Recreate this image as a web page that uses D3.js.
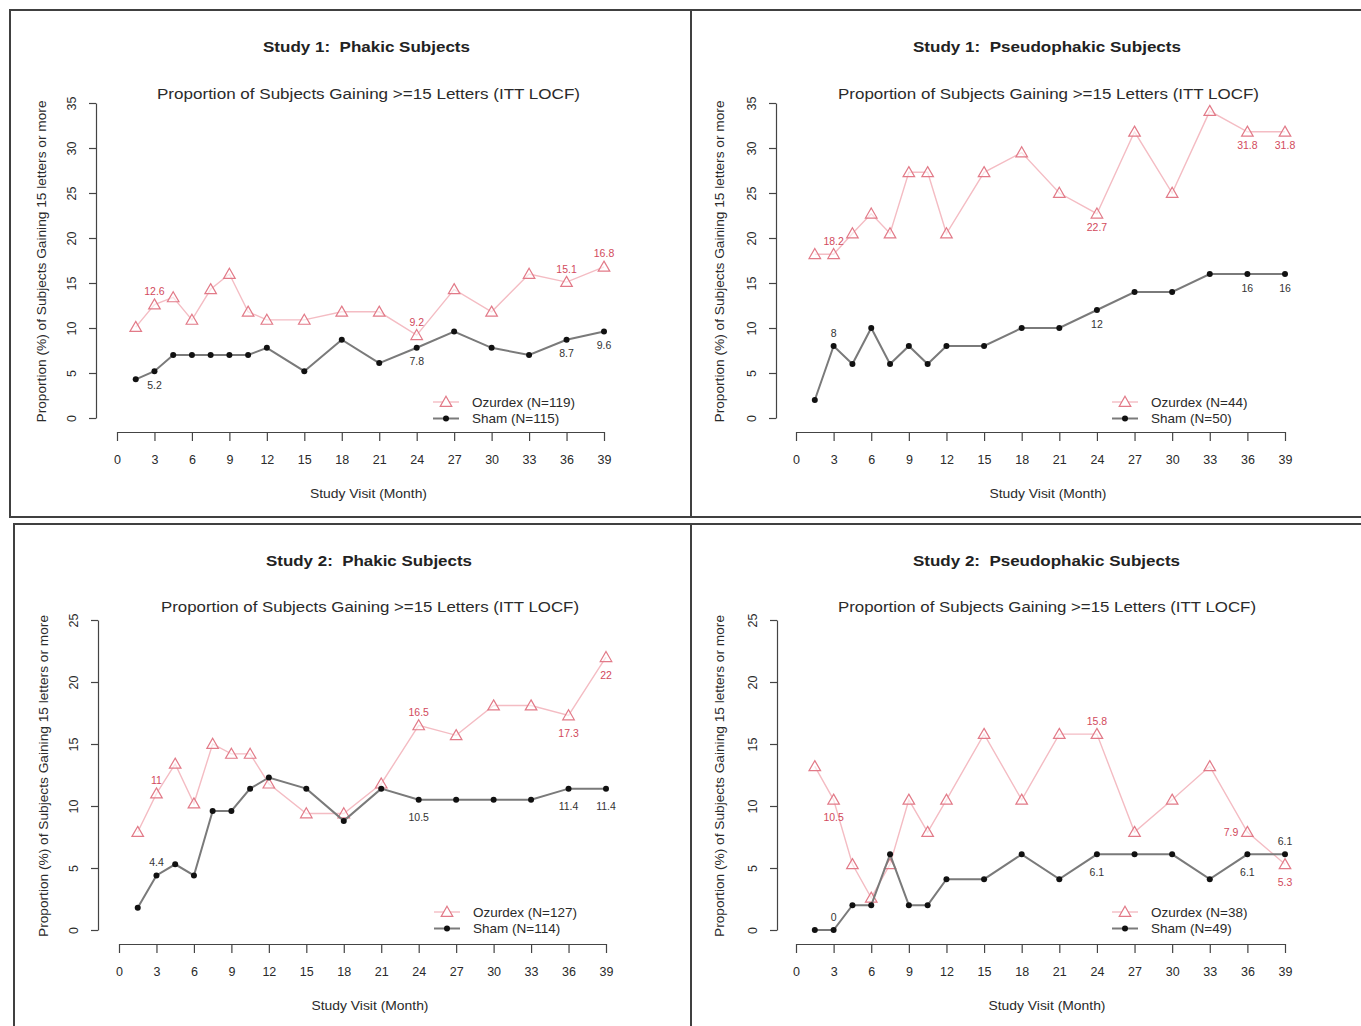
<!DOCTYPE html>
<html>
<head>
<meta charset="utf-8">
<script src="https://cdn.jsdelivr.net/npm/d3@7"></script>
<style>
  html, body { margin: 0; padding: 0; background: #fff; }
  svg { display: block; }
  text { font-family: "Liberation Sans", Arial, sans-serif; }
  .pre { white-space: pre; }
</style>
</head>
<body>
<svg id="chart" width="1361" height="1026"></svg>
<script>
// ---------------- DATA ----------------
const months = [1.5, 3, 4.5, 6, 7.5, 9, 10.5, 12, 15, 18, 21, 24, 27, 30, 33, 36, 39];
const xTickValues = [0, 3, 6, 9, 12, 15, 18, 21, 24, 27, 30, 33, 36, 39];
const yTicksStudy1 = [0, 5, 10, 15, 20, 25, 30, 35];
const yTicksStudy2 = [0, 5, 10, 15, 20, 25];

const panelTitles = ["Study 1:  Phakic Subjects", "Study 1:  Pseudophakic Subjects",
                     "Study 2:  Phakic Subjects", "Study 2:  Pseudophakic Subjects"];
const subtitle = "Proportion of Subjects Gaining >=15 Letters (ITT LOCF)";
const yTitle = "Proportion (%) of Subjects Gaining 15 letters or more";
const xTitle = "Study Visit (Month)";

const s1PhakicOzurdex = [10.1, 12.6, 13.4, 10.9, 14.3, 16.0, 11.8, 10.9, 10.9, 11.8, 11.8, 9.2, 14.3, 11.8, 16.0, 15.1, 16.8];
const s1PhakicSham    = [4.3, 5.2, 7.0, 7.0, 7.0, 7.0, 7.0, 7.8, 5.2, 8.7, 6.1, 7.8, 9.6, 7.8, 7.0, 8.7, 9.6];
const s1PseudoOzurdex = [18.2, 18.2, 20.5, 22.7, 20.5, 27.3, 27.3, 20.5, 27.3, 29.5, 25.0, 22.7, 31.8, 25.0, 34.1, 31.8, 31.8];
const s1PseudoSham    = [2, 8, 6, 10, 6, 8, 6, 8, 8, 10, 10, 12, 14, 14, 16, 16, 16];
const s2PhakicOzurdex = [7.9, 11.0, 13.4, 10.2, 15.0, 14.2, 14.2, 11.8, 9.4, 9.4, 11.8, 16.5, 15.7, 18.1, 18.1, 17.3, 22.0];
const s2PhakicSham    = [1.8, 4.4, 5.3, 4.4, 9.6, 9.6, 11.4, 12.3, 11.4, 8.8, 11.4, 10.5, 10.5, 10.5, 10.5, 11.4, 11.4];
const s2PseudoOzurdex = [13.2, 10.5, 5.3, 2.6, 5.3, 10.5, 7.9, 10.5, 15.8, 10.5, 15.8, 15.8, 7.9, 10.5, 13.2, 7.9, 5.3];
const s2PseudoSham    = [0, 0, 2.0, 2.0, 6.1, 2.0, 2.0, 4.1, 4.1, 6.1, 4.1, 6.1, 6.1, 6.1, 4.1, 6.1, 6.1];

const labelMonths = [3, 24, 36, 39];
const s1PhakicOzurdexLabels = ["12.6", "9.2", "15.1", "16.8"];
const s1PhakicShamLabels    = ["5.2", "7.8", "8.7", "9.6"];
const s1PseudoOzurdexLabels = ["18.2", "22.7", "31.8", "31.8"];
const s1PseudoShamLabels    = ["8", "12", "16", "16"];
const s2PhakicOzurdexLabels = ["11", "16.5", "17.3", "22"];
const s2PhakicShamLabels    = ["4.4", "10.5", "11.4", "11.4"];
const s2PseudoOzurdexLabels = ["10.5", "15.8", "7.9", "5.3"];
const s2PseudoShamLabels    = ["0", "6.1", "6.1", "6.1"];

const ozurdexLegend = ["Ozurdex (N=119)", "Ozurdex (N=44)", "Ozurdex (N=127)", "Ozurdex (N=38)"];
const shamLegend    = ["Sham (N=115)", "Sham (N=50)", "Sham (N=114)", "Sham (N=49)"];

// ---------------- STYLE ----------------
const OZ_LINE = "#f4bcc3", OZ_MARK = "#e27a88", OZ_TEXT = "#d24a5c";
const SH_LINE = "#7a7a7a", SH_MARK = "#111", SH_TEXT = "#333";
const TXT = "#2a2a2a";

const svg = d3.select("#chart");

// panel frames
const frames = [
  {x: 10, y: 10, w: 681, h: 507},
  {x: 691, y: 10, w: 690, h: 507},
  {x: 14, y: 524, w: 677, h: 520},
  {x: 691, y: 524, w: 690, h: 520}
];
frames.forEach(f => {
  svg.append("rect").attr("x", f.x).attr("y", f.y).attr("width", f.w).attr("height", f.h)
    .attr("fill", "none").attr("stroke", "#404040").attr("stroke-width", 2);
});

const panels = [
  {title: panelTitles[0], oz: s1PhakicOzurdex, sh: s1PhakicSham,
   ozLab: s1PhakicOzurdexLabels, shLab: s1PhakicShamLabels,
   ozPos: ["a","a","a","a"], shPos: ["b","b","b","b"],
   legend: [ozurdexLegend[0], shamLegend[0]], yTicks: yTicksStudy1, yMax: 35,
   xr: [117, 604], yr: [418, 103], yAxisX: 96, xAxisY: 432,
   titleX: 366.5, titleW: 207, subX: 368.5, subW: 423, xtX: 368.5,
   titleY: 47, subY: 94, yTitleX: 42, legX: 433, legY: 402, below: 14},
  {title: panelTitles[1], oz: s1PseudoOzurdex, sh: s1PseudoSham,
   ozLab: s1PseudoOzurdexLabels, shLab: s1PseudoShamLabels,
   ozPos: ["a","b","b","b"], shPos: ["a","b","b","b"],
   legend: [ozurdexLegend[1], shamLegend[1]], yTicks: yTicksStudy1, yMax: 35,
   xr: [796, 1285], yr: [418, 103], yAxisX: 776, xAxisY: 432,
   titleX: 1047, titleW: 268, subX: 1048.5, subW: 421, xtX: 1048,
   titleY: 47, subY: 94, yTitleX: 720, legX: 1112, legY: 402, below: 14},
  {title: panelTitles[2], oz: s2PhakicOzurdex, sh: s2PhakicSham,
   ozLab: s2PhakicOzurdexLabels, shLab: s2PhakicShamLabels,
   ozPos: ["a","a","b","b"], shPos: ["a","b","b","b"],
   legend: [ozurdexLegend[2], shamLegend[2]], yTicks: yTicksStudy2, yMax: 25,
   xr: [119, 606], yr: [930, 620], yAxisX: 98, xAxisY: 944,
   titleX: 369, titleW: 206, subX: 370, subW: 418, xtX: 370,
   titleY: 561, subY: 607, yTitleX: 44, legX: 434, legY: 912, below: 18},
  {title: panelTitles[3], oz: s2PseudoOzurdex, sh: s2PseudoSham,
   ozLab: s2PseudoOzurdexLabels, shLab: s2PseudoShamLabels,
   ozPos: ["b","a","l","b"], shPos: ["a","b","b","a"],
   legend: [ozurdexLegend[3], shamLegend[3]], yTicks: yTicksStudy2, yMax: 25,
   xr: [796, 1285], yr: [930, 620], yAxisX: 777, xAxisY: 944,
   titleX: 1046.5, titleW: 267, subX: 1047, subW: 418, xtX: 1047,
   titleY: 561, subY: 607, yTitleX: 720, legX: 1112, legY: 912, below: 18}
];

const triangle = d3.symbol().type(d3.symbolTriangle).size(58);

panels.forEach(p => {
  const g = svg.append("g");
  const x = d3.scaleLinear().domain([0, 39]).range(p.xr);
  const y = d3.scaleLinear().domain([0, p.yMax]).range(p.yr);

  // titles
  g.append("text").attr("class", "pre").attr("x", p.titleX).attr("y", p.titleY).attr("dy", "0.35em")
    .attr("text-anchor", "middle").attr("font-weight", "bold").attr("font-size", 15)
    .attr("textLength", p.titleW).attr("lengthAdjust", "spacingAndGlyphs")
    .attr("fill", "#222").text(p.title);
  g.append("text").attr("x", p.subX).attr("y", p.subY).attr("dy", "0.35em")
    .attr("text-anchor", "middle").attr("font-size", 15.5).attr("fill", TXT)
    .attr("textLength", p.subW).attr("lengthAdjust", "spacingAndGlyphs").text(subtitle);

  // y axis
  const yAxis = d3.axisLeft(y).tickValues(p.yTicks).tickSize(7).tickSizeOuter(0);
  const ya = g.append("g").attr("transform", `translate(${p.yAxisX},0)`).call(yAxis);
  ya.select(".domain").attr("stroke", "#444").attr("stroke-width", 1.2);
  ya.selectAll(".tick line").attr("stroke", "#444").attr("stroke-width", 1.2);
  ya.selectAll(".tick text").attr("x", 0).attr("dy", 0).attr("y", 0)
    .attr("transform", "translate(-20,0) rotate(-90)")
    .attr("text-anchor", "middle").attr("font-size", 12.5).attr("fill", TXT)
    .attr("font-family", "Liberation Sans, Arial, sans-serif");

  // y title
  const yMid = (p.yr[0] + p.yr[1]) / 2 + 1;
  g.append("text").attr("transform", `translate(${p.yTitleX},${yMid}) rotate(-90)`)
    .attr("text-anchor", "middle").attr("dy", "0.35em").attr("font-size", 12.5)
    .attr("textLength", 322).attr("lengthAdjust", "spacingAndGlyphs")
    .attr("fill", TXT).text(yTitle);

  // x axis
  const xAxis = d3.axisBottom(x).tickValues(xTickValues).tickSize(9).tickSizeOuter(0);
  const xa = g.append("g").attr("transform", `translate(0,${p.xAxisY})`).call(xAxis);
  xa.select(".domain").attr("stroke", "#444").attr("stroke-width", 1.2);
  xa.selectAll(".tick line").attr("stroke", "#444").attr("stroke-width", 1.2);
  xa.selectAll(".tick text").attr("y", 28).attr("dy", "0.35em").attr("font-size", 12.5)
    .attr("fill", TXT).attr("font-family", "Liberation Sans, Arial, sans-serif");
  g.append("text").attr("x", p.xtX).attr("y", p.xAxisY + 61).attr("dy", "0.35em")
    .attr("text-anchor", "middle").attr("font-size", 13).attr("fill", TXT)
    .attr("textLength", 117).attr("lengthAdjust", "spacingAndGlyphs").text(xTitle);

  const line = d3.line().x((d, i) => x(months[i])).y(d => y(d));

  // Ozurdex
  g.append("path").datum(p.oz).attr("d", line).attr("fill", "none")
    .attr("stroke", OZ_LINE).attr("stroke-width", 1.4);
  g.selectAll(".oz").data(p.oz).enter().append("path")
    .attr("d", triangle).attr("transform", (d, i) => `translate(${x(months[i])},${y(d) + 1})`)
    .attr("fill", "#fff").attr("fill-opacity", 0.6).attr("stroke", OZ_MARK).attr("stroke-width", 1.2);

  // Sham
  g.append("path").datum(p.sh).attr("d", line).attr("fill", "none")
    .attr("stroke", SH_LINE).attr("stroke-width", 2);
  g.selectAll(".sh").data(p.sh).enter().append("circle")
    .attr("cx", (d, i) => x(months[i])).attr("cy", d => y(d)).attr("r", 3)
    .attr("fill", SH_MARK);

  // value labels
  function addLabels(values, labels, pos, color) {
    labels.forEach((t, k) => {
      const idx = months.indexOf(labelMonths[k]);
      const px = x(months[idx]), py = y(values[idx]);
      let lx = px, ly = py, anchor = "middle";
      if (pos[k] === "a") ly = py - 13;
      else if (pos[k] === "b") ly = py + p.below;
      else if (pos[k] === "l") { lx = px - 9; anchor = "end"; }
      g.append("text").attr("x", lx).attr("y", ly).attr("dy", "0.35em")
        .attr("text-anchor", anchor).attr("font-size", 10.5).attr("fill", color).text(t);
    });
  }
  addLabels(p.oz, p.ozLab, p.ozPos, OZ_TEXT);
  addLabels(p.sh, p.shLab, p.shPos, SH_TEXT);

  // legend
  const lg = g.append("g");
  const lx0 = p.legX, lx1 = p.legX + 26, lmid = (lx0 + lx1) / 2;
  lg.append("line").attr("x1", lx0).attr("x2", lx1).attr("y1", p.legY).attr("y2", p.legY)
    .attr("stroke", OZ_LINE).attr("stroke-width", 1.4);
  lg.append("path").attr("d", triangle).attr("transform", `translate(${lmid},${p.legY + 1})`)
    .attr("fill", "#fff").attr("stroke", OZ_MARK).attr("stroke-width", 1.2);
  lg.append("text").attr("x", lx1 + 13).attr("y", p.legY).attr("dy", "0.35em")
    .attr("font-size", 13.5).attr("fill", TXT).text(p.legend[0]);
  const ly2 = p.legY + 16.5;
  lg.append("line").attr("x1", lx0).attr("x2", lx1).attr("y1", ly2).attr("y2", ly2)
    .attr("stroke", SH_LINE).attr("stroke-width", 2);
  lg.append("circle").attr("cx", lmid).attr("cy", ly2).attr("r", 3).attr("fill", SH_MARK);
  lg.append("text").attr("x", lx1 + 13).attr("y", ly2).attr("dy", "0.35em")
    .attr("font-size", 13.5).attr("fill", TXT).text(p.legend[1]);
});
</script>
</body>
</html>
